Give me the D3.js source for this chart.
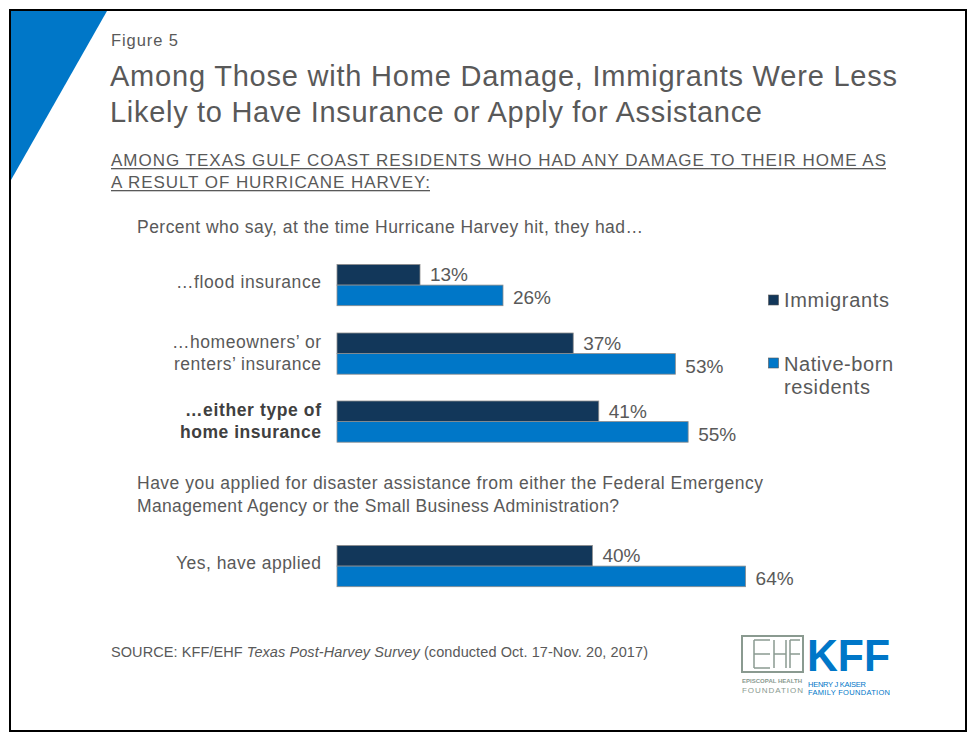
<!DOCTYPE html>
<html><head><meta charset="utf-8">
<script src="https://cdn.jsdelivr.net/npm/d3@7"></script>
<style>
body{margin:0;background:#fff;}
svg{display:block;font-family:"Liberation Sans",Arial,sans-serif;}
</style></head>
<body>
<svg id="c" width="971" height="735"></svg>
<script>
const categories = [
  ["…flood insurance"],
  ["…homeowners’ or","renters’ insurance"],
  ["…either type of","home insurance"],
  ["Yes, have applied"]
];
const categoryWidths = [[145],[149,147],[136,141],[145]];
const boldCategory = [false,false,true,false];
const seriesNames = ["Immigrants","Native-born residents"];
const immigrants = [13,37,41,40];
const nativeBorn = [26,53,55,64];
const groupTops = [264.5,333,401,545.5];

const svg = d3.select("#c");
const gray = "#595959";
const navy = "#12375a";
const blue = "#0077c8";

function txt(x,y,size,str,w,opts){
  const t = svg.append("text").attr("x",x).attr("y",y).attr("font-size",size).attr("fill",gray).text(str);
  if(w) t.attr("textLength",w).attr("lengthAdjust","spacing");
  if(opts) Object.entries(opts).forEach(([k,v])=>t.attr(k,v));
  return t;
}
function underline(x,y,w){
  svg.append("rect").attr("x",x).attr("y",y).attr("width",w).attr("height",1.3).attr("fill",gray);
}

// frame
svg.append("rect").attr("x",10).attr("y",10).attr("width",956).attr("height",721)
  .attr("fill","#fff").attr("stroke","#000").attr("stroke-width",2);
svg.append("path").attr("d","M11,11 L107,11 L11,180 Z").attr("fill",blue);

// titles
txt(111,46,16.5,"Figure 5",67);
txt(110,86,29,"Among Those with Home Damage, Immigrants Were Less",787);
txt(110,122,29,"Likely to Have Insurance or Apply for Assistance",652);
txt(111,166,17,"AMONG TEXAS GULF COAST RESIDENTS WHO HAD ANY DAMAGE TO THEIR HOME AS",775);
underline(111,168,775);
txt(111,188,17,"A RESULT OF HURRICANE HARVEY:",319);
underline(111,190,319);
txt(137,233,17.5,"Percent who say, at the time Hurricane Harvey hit, they had…",506);
txt(137,489,17.5,"Have you applied for disaster assistance from either the Federal Emergency",626);
txt(137,512,17.5,"Management Agency or the Small Business Administration?",482);

// scales
const x = d3.scaleLinear().domain([0,64]).range([337,745.6]);
const barH = 20.6;
const data = categories.map((c,i)=>({cat:c,w:categoryWidths[i],bold:boldCategory[i],top:groupTops[i],vals:[immigrants[i],nativeBorn[i]]}));
const colors = [navy,blue];

const g = svg.append("g");
data.forEach(d=>{
  d.vals.forEach((v,j)=>{
    const y0 = d.top + j*barH;
    g.append("rect").attr("x",x(0)).attr("y",y0).attr("width",x(v)-x(0)).attr("height",barH)
      .attr("fill",colors[j]).attr("stroke","#8c8c8c").attr("stroke-width",0.8);
    g.append("text").attr("x",x(v)+10).attr("y",y0+barH/2+(j===0?0:2)).attr("dy","0.35em")
      .attr("font-size",19).attr("fill",gray).text(v+"%");
  });
  const n = d.cat.length;
  const mid = d.top + barH - (n===1?3:1);
  d.cat.forEach((line,k)=>{
    g.append("text").attr("x",321).attr("y",mid + (k-(n-1)/2)*22).attr("dy","0.35em")
      .attr("text-anchor","end").attr("font-size",17.5).attr("fill",d.bold?"#404040":gray)
      .attr("textLength",d.w[k]).attr("lengthAdjust","spacing")
      .attr("font-weight",d.bold?"bold":"normal").text(line);
  });
});

// legend
const leg = svg.append("g");
leg.append("rect").attr("x",768.5).attr("y",295).attr("width",10).attr("height",10).attr("fill",navy).attr("stroke","#555").attr("stroke-width",0.6);
leg.append("text").attr("x",784).attr("y",307).attr("font-size",20).attr("fill",gray).attr("textLength",105).text(seriesNames[0]);
leg.append("rect").attr("x",768.5).attr("y",358).attr("width",10).attr("height",10).attr("fill",blue).attr("stroke","#555").attr("stroke-width",0.6);
leg.append("text").attr("x",784).attr("y",371).attr("font-size",20).attr("fill",gray).attr("textLength",109).text("Native-born");
leg.append("text").attr("x",784).attr("y",394).attr("font-size",20).attr("fill",gray).attr("textLength",86).text("residents");

// source
const src = svg.append("text").attr("x",111).attr("y",657).attr("font-size",14.5).attr("fill",gray)
  .attr("textLength",537).attr("lengthAdjust","spacing");
src.append("tspan").text("SOURCE: KFF/EHF ");
src.append("tspan").attr("font-style","italic").text("Texas Post-Harvey Survey");
src.append("tspan").text(" (conducted Oct. 17-Nov. 20, 2017)");

// logo
const lg = svg.append("g");
const ehf = "#8a9a90";
lg.append("rect").attr("x",742).attr("y",636).attr("width",61).attr("height",36).attr("fill","none").attr("stroke",ehf).attr("stroke-width",2);
[[754,640,754,668],[754,640,770,640],[754,654,770,654],[754,668,770,668],[774,640,774,668],[774,654,786,654],[786,640,786,668],[790,640,790,668],[790,640,800,640],[790,654,800,654]]
 .forEach(l=>lg.append("line").attr("x1",l[0]).attr("y1",l[1]).attr("x2",l[2]).attr("y2",l[3]).attr("stroke",ehf).attr("stroke-width",1.5));
lg.append("text").attr("x",742).attr("y",683).attr("font-size",6).attr("fill",ehf).attr("font-weight","bold").attr("textLength",60).text("EPISCOPAL HEALTH");
lg.append("text").attr("x",742).attr("y",693).attr("font-size",8).attr("fill",ehf).attr("textLength",61).text("FOUNDATION");
lg.append("text").attr("x",807).attr("y",670.5).attr("font-size",45).attr("font-weight","bold").attr("fill",blue)
  .attr("textLength",83).attr("lengthAdjust","spacingAndGlyphs").text("KFF");
lg.append("text").attr("x",808).attr("y",686.5).attr("font-size",7.5).attr("fill",blue).attr("textLength",58).text("HENRY J KAISER");
lg.append("text").attr("x",808).attr("y",695).attr("font-size",7.5).attr("fill",blue).attr("textLength",82).text("FAMILY FOUNDATION");
</script>
</body></html>
